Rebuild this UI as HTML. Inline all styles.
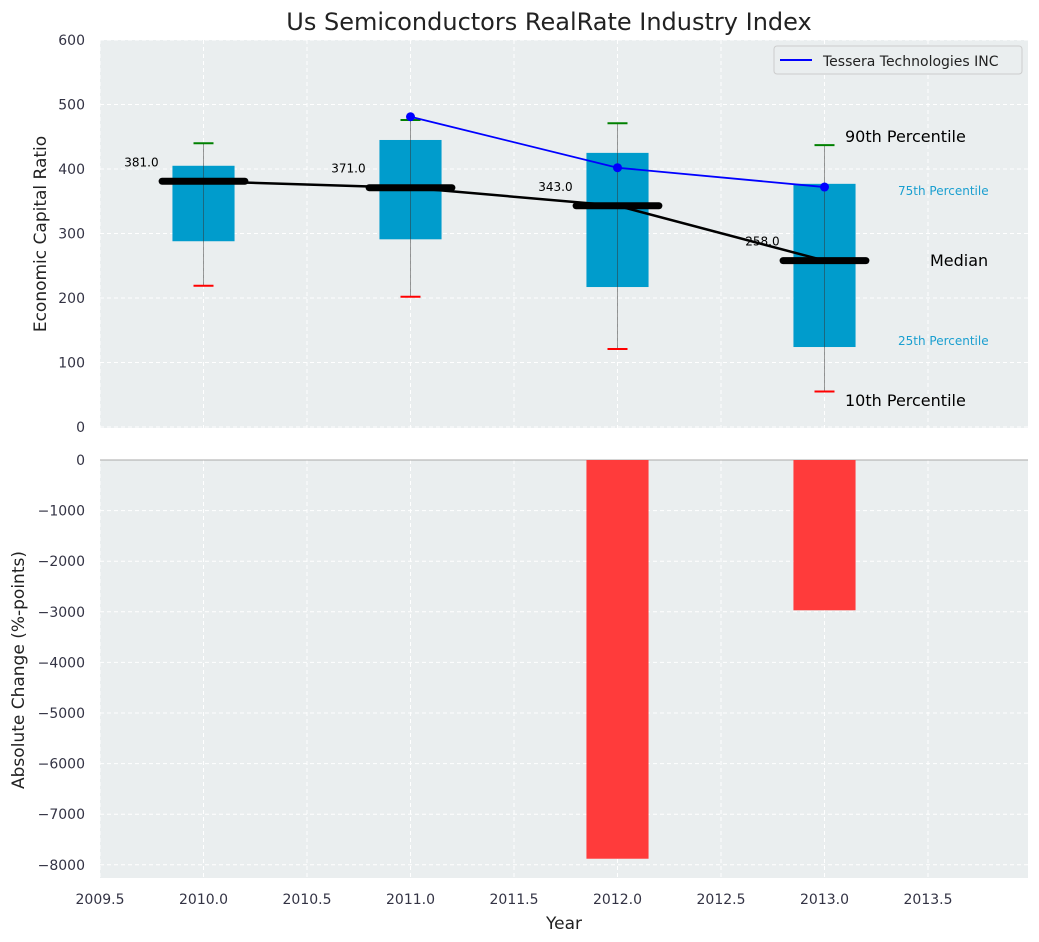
<!DOCTYPE html>
<html><head><meta charset="utf-8"><style>
body{margin:0;background:#fff;}
svg{display:block;font-family:"DejaVu Sans","Liberation Sans",sans-serif;}
</style></head><body>
<svg id="chart" width="1039" height="942" viewBox="0 0 1039 942" xmlns="http://www.w3.org/2000/svg">
<text x="549" y="30" font-size="24" text-anchor="middle" fill="#222">Us Semiconductors RealRate Industry Index</text>
<rect x="100" y="40" width="928" height="388" fill="#eaeeef"/>
<rect x="100" y="460" width="928" height="418" fill="#eaeeef"/>
<g id="topg"></g><g id="botg"></g>
<text x="46" y="234" font-size="17" fill="#222" text-anchor="middle" transform="rotate(-90 46 234)">Economic Capital Ratio</text>
<text x="24" y="670" font-size="17" fill="#222" text-anchor="middle" transform="rotate(-90 24 670)">Absolute Change (%-points)</text>
<text x="564" y="929" font-size="17" fill="#222" text-anchor="middle">Year</text>
<g>
<rect x="774" y="46" width="248" height="28" rx="3" fill="#eaeeef" stroke="#ccc"/>
<line x1="780" y1="60" x2="812" y2="60" stroke="#0000ff" stroke-width="2"/>
<text x="823" y="66" font-size="14" fill="#222">Tessera Technologies INC</text>
</g>
<text x="845" y="142" font-size="16" fill="#000">90th Percentile</text>
<text x="898" y="195" font-size="12" fill="#1a9fd0">75th Percentile</text>
<text x="930" y="266" font-size="16" fill="#000">Median</text>
<text x="898" y="345" font-size="12" fill="#1a9fd0">25th Percentile</text>
<text x="845" y="406" font-size="16" fill="#000">10th Percentile</text>
</svg>
<script>
const years=[2010,2011,2012,2013];
const p10=[219,202,121,55];
const p25=[288,291,217,124];
const median=[381,371,343,258];
const p75=[405,445,425,377];
const p90=[440,476,471,437];
const tesseraYears=[2011,2012,2013];
const tesseraVals=[481,402,372];
const changeYears=[2012,2013];
const changeVals=[-7880,-2970];
const xTicks=[2009.5,2010,2010.5,2011,2011.5,2012,2012.5,2013,2013.5];
const topTicks=[0,100,200,300,400,500,600];
const botTicks=[0,-1000,-2000,-3000,-4000,-5000,-6000,-7000,-8000];

const NS='http://www.w3.org/2000/svg';
const X=v=>100+(v-2009.5)*207;
const YT=v=>427-v*0.645;
const YBf=v=>460+(-v)*0.0506;
function mk(p,tag,a){const e=document.createElementNS(NS,tag);for(const k in a)e.setAttribute(k,a[k]);p.appendChild(e);return e;}
const topG=document.getElementById('topg'),botG=document.getElementById('botg');
xTicks.forEach(t=>{
 let g=mk(topG,'line',{x1:X(t),x2:X(t),y1:40,y2:428,stroke:'#fff','stroke-dasharray':'4,3'});
 
 let g2=mk(botG,'line',{x1:X(t),x2:X(t),y1:460,y2:878,stroke:'#fff','stroke-dasharray':'4,3'});
 
 let tx=mk(botG,'text',{x:X(t),y:904,'font-size':14,fill:'#334','text-anchor':'middle'});tx.textContent=t.toFixed(1);
 
});
topTicks.forEach(t=>{
 let g=mk(topG,'line',{x1:100,x2:1028,y1:YT(t),y2:YT(t),stroke:'#fff','stroke-dasharray':'4,3'});
 
 let tx=mk(topG,'text',{x:85,y:YT(t)+5,'font-size':14,fill:'#334','text-anchor':'end'});tx.textContent=t;
 
});
botTicks.forEach(t=>{
 let g=mk(botG,'line',{x1:100,x2:1028,y1:YBf(t),y2:YBf(t),stroke:'#fff','stroke-dasharray':'4,3'});
 
 let tx=mk(botG,'text',{x:85,y:YBf(t)+5,'font-size':14,fill:'#334','text-anchor':'end'});tx.textContent=(t<0?'\u2212'+(-t):t);
 
});
let zl=mk(botG,'line',{x1:100,x2:1028,y1:460,y2:460,stroke:'#aaa','stroke-width':1});

years.forEach((y,i)=>{
 const cx=X(y);
 let b=mk(topG,'rect',{x:X(y-0.15),y:YT(p75[i]),width:X(y+0.15)-X(y-0.15),height:YT(p25[i])-YT(p75[i]),fill:'#009ccc'});
 
 let w=mk(topG,'line',{x1:cx,x2:cx,y1:YT(p90[i]),y2:YT(p10[i]),stroke:'#333','stroke-opacity':0.5,'stroke-width':1});
 
 let h=mk(topG,'line',{x1:cx-10,x2:cx+10,y1:YT(p90[i]),y2:YT(p90[i]),stroke:'green','stroke-width':2});
 
 let l=mk(topG,'line',{x1:cx-10,x2:cx+10,y1:YT(p10[i]),y2:YT(p10[i]),stroke:'red','stroke-width':2});
 
});
let mp=mk(topG,'polyline',{points:years.map((y,i)=>X(y)+','+YT(median[i])).join(' '),fill:'none',stroke:'#000','stroke-width':2.5});

years.forEach((y,i)=>{
 let m=mk(topG,'line',{x1:X(y-0.2),x2:X(y+0.2),y1:YT(median[i]),y2:YT(median[i]),stroke:'#000','stroke-width':7,'stroke-linecap':'round'});
 
 let t=mk(topG,'text',{x:X(y-0.3),y:YT(median[i])-15,'font-size':12,fill:'#000','text-anchor':'middle'});t.textContent=median[i].toFixed(1);
 
});
let tl=mk(topG,'polyline',{points:tesseraYears.map((y,i)=>X(y)+','+YT(tesseraVals[i])).join(' '),fill:'none',stroke:'#0000ff','stroke-width':1.8});

tesseraYears.forEach((y,i)=>{
 let c=mk(topG,'circle',{cx:X(y),cy:YT(tesseraVals[i]),r:4.5,fill:'#0000ff'});
 
});
changeYears.forEach((y,i)=>{
 const v=changeVals[i];
 let r=mk(botG,'rect',{x:X(y-0.15),y:Math.min(460,YBf(v)),width:X(y+0.15)-X(y-0.15),height:Math.abs(YBf(v)-460),fill:'#ff3b3b'});
 
});
</script>
</body></html>
